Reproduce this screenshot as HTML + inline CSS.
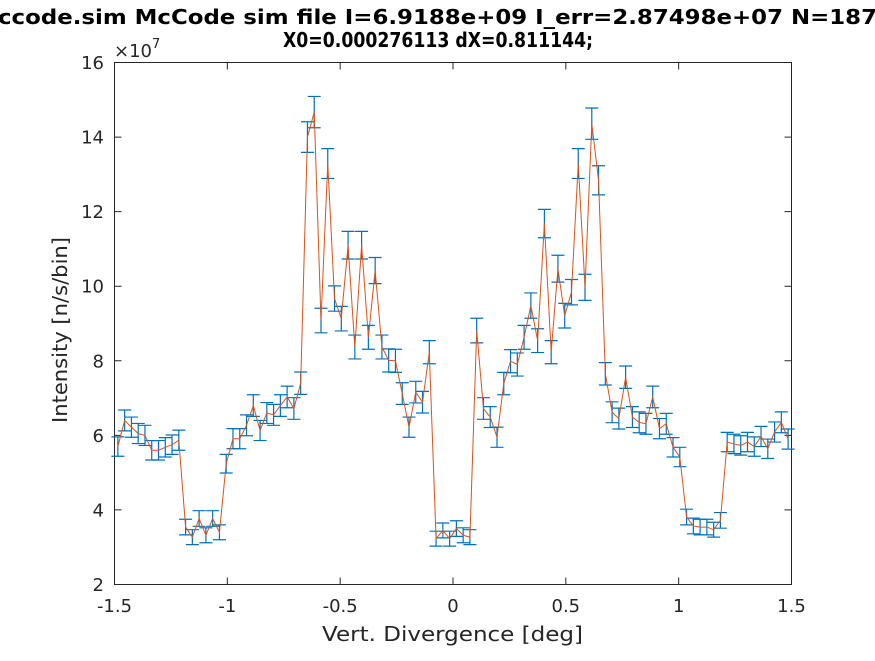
<!DOCTYPE html>
<html><head><meta charset="utf-8"><style>
html,body{margin:0;padding:0;background:#fff;}
svg text{font-family:"DejaVu Sans","Liberation Sans",sans-serif;}
</style></head><body>
<svg id="chart" width="875" height="656" viewBox="0 0 875 656" xmlns="http://www.w3.org/2000/svg">
<rect x="0" y="0" width="875" height="656" fill="#fff"/>
<text x="-2" y="24" font-size="20" font-weight="bold" fill="#000" textLength="879" lengthAdjust="spacingAndGlyphs">ccode.sim McCode sim file I=6.9188e+09 I_err=2.87498e+07 N=187</text>
<text x="283" y="47" font-size="20" font-weight="bold" fill="#000" textLength="310" lengthAdjust="spacingAndGlyphs">X0=0.000276113 dX=0.811144;</text>
<g id="axes"></g>
<g id="series"></g>
<text x="322" y="641" font-size="20" fill="#262626" textLength="261" lengthAdjust="spacingAndGlyphs">Vert. Divergence [deg]</text>
<text transform="translate(67,423) rotate(-90)" font-size="20" fill="#262626" textLength="186" lengthAdjust="spacingAndGlyphs">Intensity [n/s/bin]</text>
<text x="114" y="57" font-size="18" fill="#262626">×10<tspan dy="-9" font-size="13">7</tspan></text>
</svg>
<script>
const xTicks = [-1.5,-1,-0.5,0,0.5,1,1.5];
const xTickLabels = ["-1.5","-1","-0.5","0","0.5","1","1.5"];
const yTicks = [2,4,6,8,10,12,14,16];
const yTickLabels = ["2","4","6","8","10","12","14","16"];
const xStart = -1.485;
const xStep = 0.03;
const values = [5.7,6.4,6.22,6.05,6.0,5.6,5.6,5.68,5.75,5.87,
3.54,3.27,3.77,3.32,3.77,3.4,5.24,5.91,5.91,6.27,
6.8,6.13,6.6,6.55,6.8,7.03,6.72,7.4,14.0,14.67,
9.08,13.29,9.67,9.13,11.1,8.37,11.1,8.63,10.42,8.37,
8.01,8.0,7.12,6.22,7.16,6.89,8.23,3.23,3.45,3.23,
3.5,3.32,3.27,8.81,6.72,6.49,5.95,7.39,7.99,7.9,
8.63,9.48,8.54,11.68,8.23,10.47,9.21,9.84,13.29,9.97,
14.36,12.84,7.65,6.62,6.45,7.56,6.49,6.35,6.31,7.03,
6.18,6.31,5.68,5.42,3.81,3.57,3.54,3.54,3.47,3.72,
5.82,5.77,5.73,5.82,5.7,5.97,5.64,6.09,6.35,5.9];
const errors = [0.26,0.28,0.27,0.27,0.27,0.26,0.26,0.26,0.26,0.27,
0.21,0.2,0.21,0.2,0.21,0.2,0.25,0.27,0.27,0.28,
0.29,0.27,0.28,0.28,0.29,0.29,0.29,0.3,0.41,0.42,
0.33,0.4,0.34,0.33,0.37,0.32,0.37,0.32,0.35,0.32,
0.31,0.31,0.29,0.27,0.29,0.29,0.31,0.2,0.2,0.2,
0.21,0.2,0.2,0.33,0.29,0.28,0.27,0.3,0.31,0.31,
0.32,0.34,0.32,0.38,0.31,0.36,0.33,0.34,0.4,0.35,
0.42,0.39,0.3,0.28,0.28,0.3,0.28,0.28,0.28,0.29,
0.27,0.28,0.26,0.26,0.21,0.21,0.21,0.21,0.2,0.21,
0.26,0.26,0.26,0.26,0.26,0.27,0.26,0.27,0.28,0.27];

const L=114.5,R=791.5,T=62.5,B=584.5;
const xMin=-1.5,xMax=1.5,yMin=2,yMax=16;
function sx(v){return L+(v-xMin)/(xMax-xMin)*(R-L);}
function sy(v){return B-(v-yMin)/(yMax-yMin)*(B-T);}
const NS='http://www.w3.org/2000/svg';
function mk(tag,attrs,parent){const e=document.createElementNS(NS,tag);for(const k in attrs)e.setAttribute(k,attrs[k]);parent.appendChild(e);return e;}
const axes=document.getElementById('axes');
const series=document.getElementById('series');

const box=mk('rect',{x:L,y:T,width:R-L,height:B-T,fill:'#fff',stroke:'#262626','stroke-width':1},axes);



xTicks.forEach((t,i)=>{
  const x=sx(t);
  const tk=mk('path',{d:`M${x},${B}V${B-7}M${x},${T}V${T+7}`,stroke:'#262626','stroke-width':1},axes);
  
  
  const lb=mk('text',{x:x,y:612,'font-size':18,fill:'#262626','text-anchor':'middle'},axes);
  lb.textContent=xTickLabels[i];
  
  
});
yTicks.forEach((t,i)=>{
  const y=sy(t);
  const tk=mk('path',{d:`M${L},${y}H${L+7}M${R},${y}H${R-7}`,stroke:'#262626','stroke-width':1},axes);
  
  
  const lb=mk('text',{x:104,y:y+6.5,'font-size':18,fill:'#262626','text-anchor':'end'},axes);
  lb.textContent=yTickLabels[i];
  
  
});

values.forEach((v,i)=>{
  const x=sx(xStart+xStep*i);
  const y1=sy(v+errors[i]), y2=sy(v-errors[i]);
  const eb=mk('path',{d:`M${x},${y1}V${y2}M${x-6.5},${y1}H${x+6.5}M${x-6.5},${y2}H${x+6.5}`,stroke:'#0072BD','stroke-width':1.2,fill:'none'},series);
  
  
});
const pts=values.map((v,i)=>`${sx(xStart+xStep*i).toFixed(2)},${sy(v).toFixed(2)}`).join(' ');
const line=mk('polyline',{points:pts,fill:'none',stroke:'#D95319','stroke-width':1},series);


</script>
</body></html>
